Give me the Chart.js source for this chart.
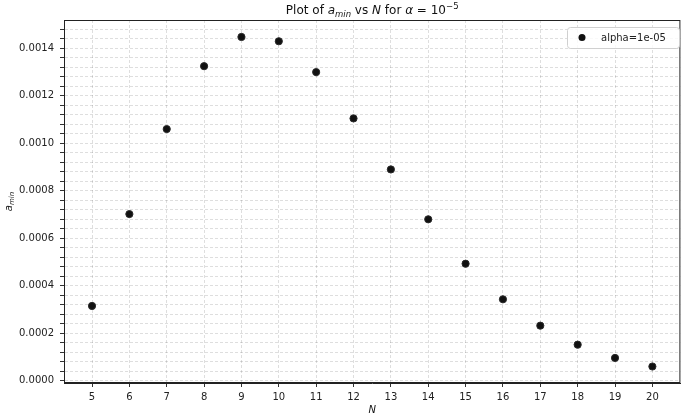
<!DOCTYPE html>
<html>
<head>
<meta charset="utf-8">
<script src="https://cdn.jsdelivr.net/npm/chart.js@4/dist/chart.umd.min.js"></script>
<style>
  html, body { margin: 0; padding: 0; background: #fff; }
  #wrap { width: 685px; height: 418px; position: relative; }
</style>
</head>
<body>
<div id="wrap"><canvas id="myChart" width="685" height="418"></canvas></div>
<script>
// values
const nValues = [5, 6, 7, 8, 9, 10, 11, 12, 13, 14, 15, 16, 17, 18, 19, 20];
const aMin = [0.000315, 0.000702, 0.00106, 0.001325, 0.001448, 0.00143, 0.0013, 0.001105,
              0.00089, 0.00068, 0.000493, 0.000343, 0.000232, 0.000152, 0.000096, 0.00006];
const xTickLabels = [5, 6, 7, 8, 9, 10, 11, 12, 13, 14, 15, 16, 17, 18, 19, 20];
const yTickLabels = [0, 0.0002, 0.0004, 0.0006, 0.0008, 0.0010, 0.0012, 0.0014];
const seriesLabel = 'alpha=1e-05';

const FONT = '"DejaVu Sans", sans-serif';
const xMin = 4.25, xMax = 20.75;
const yMin = -0.0000095, yMax = 0.0015195;

// minor y ticks every 0.00004 (5 per major step)
const yMinor = [];
for (let k = 0; k <= 37; k++) yMinor.push(+(k * 0.00004).toFixed(6));

function isMajor(v) {
  return yTickLabels.some(t => Math.abs(t - v) < 1e-9);
}

// draw a list of [text, font, dy] runs starting at x
function drawRuns(ctx, runs, x, y) {
  let cx = x;
  runs.forEach(r => {
    ctx.font = r[1];
    ctx.fillText(r[0], cx, y + (r[2] || 0));
    cx += ctx.measureText(r[0]).width;
  });
  return cx - x;
}
function runsWidth(ctx, runs) {
  let w = 0;
  runs.forEach(r => { ctx.font = r[1]; w += ctx.measureText(r[0]).width; });
  return w;
}

const decorations = {
  id: 'decorations',
  afterDraw(chart) {
    const ctx = chart.ctx;
    const a = chart.chartArea;
    ctx.save();

    // frame
    ctx.strokeStyle = '#222';
    ctx.lineWidth = 1;
    ctx.strokeRect(a.left + 0.5, a.top + 0.5, a.right - a.left - 1, a.bottom - a.top - 1);

    ctx.fillStyle = '#111';
    ctx.textBaseline = 'alphabetic';
    ctx.textAlign = 'left';

    // title
    const title = [
      ['Plot of ', '12px ' + FONT],
      ['a', 'italic 12px ' + FONT],
      ['min', 'italic 8.5px ' + FONT, 2.5],
      [' vs ', '12px ' + FONT],
      ['N', 'italic 12px ' + FONT],
      [' for ', '12px ' + FONT],
      ['\u03b1', 'italic 12px ' + FONT],
      [' = 10', '12px ' + FONT],
      ['\u22125', '8.5px ' + FONT, -5]
    ];
    const tw = runsWidth(ctx, title);
    drawRuns(ctx, title, (a.left + a.right) / 2 - tw / 2, 14);

    // x label
    const xl = [['N', 'italic 10px ' + FONT]];
    drawRuns(ctx, xl, (a.left + a.right) / 2 - runsWidth(ctx, xl) / 2, 413);

    // y label
    const yl = [['a', 'italic 10px ' + FONT], ['min', 'italic 7px ' + FONT, 2]];
    ctx.save();
    ctx.translate(12, (a.top + a.bottom) / 2);
    ctx.rotate(-Math.PI / 2);
    drawRuns(ctx, yl, -runsWidth(ctx, yl) / 2, 0);
    ctx.restore();

    // legend
    const lx = 567, ly = 27, lw = 112, lh = 21;
    ctx.beginPath();
    ctx.roundRect(lx + 0.5, ly + 0.5, lw, lh, 3);
    ctx.fillStyle = 'rgba(255,255,255,0.8)';
    ctx.fill();
    ctx.strokeStyle = '#d0d0d0';
    ctx.stroke();
    ctx.beginPath();
    ctx.arc(582, 37.5, 3.5, 0, Math.PI * 2);
    ctx.fillStyle = '#111';
    ctx.fill();
    ctx.font = '10px ' + FONT;
    ctx.fillStyle = '#222';
    ctx.textBaseline = 'middle';
    ctx.fillText(seriesLabel, 601, 38);

    ctx.restore();
  }
};

const data = {
  datasets: [{
    label: seriesLabel,
    data: nValues.map((n, i) => ({ x: n, y: aMin[i] })),
    backgroundColor: '#111',
    borderColor: '#2a2a2a',
    borderWidth: 1,
    pointRadius: 3.6,
    pointHoverRadius: 3.6,
    showLine: false
  }]
};

const config = {
  type: 'scatter',
  data: data,
  plugins: [decorations],
  options: {
    responsive: false,
    animation: false,
    events: [],
    layout: { padding: { top: 20, right: 2, left: 0, bottom: 0 } },
    plugins: {
      legend: { display: false },
      title: { display: false },
      tooltip: { enabled: false }
    },
    scales: {
      x: {
        type: 'linear',
        min: xMin,
        max: xMax,
        afterBuildTicks: axis => { axis.ticks = xTickLabels.map(v => ({ value: v })); },
        afterFit: scale => { scale.height = 35; },
        ticks: {
          font: { family: FONT, size: 10 },
          color: '#222',
          padding: 4,
          maxRotation: 0,
          autoSkip: false,
          callback: v => String(v)
        },
        grid: {
          color: 'rgba(0,0,0,0.13)',
          tickColor: '#333',
          tickLength: 4
        },
        border: { display: true, color: '#222', dash: [3, 2] }
      },
      y: {
        type: 'linear',
        min: yMin,
        max: yMax,
        afterBuildTicks: axis => { axis.ticks = yMinor.map(v => ({ value: v })); },
        afterFit: scale => { scale.width = 64; },
        ticks: {
          font: { family: FONT, size: 10 },
          color: '#222',
          padding: 6,
          autoSkip: false,
          callback: v => isMajor(v) ? v.toFixed(4) : ''
        },
        grid: {
          color: 'rgba(0,0,0,0.13)',
          tickColor: '#333',
          tickLength: 4
        },
        border: { display: true, color: '#222', dash: [3, 2] }
      }
    }
  }
};

new Chart(document.getElementById('myChart'), config);
</script>
</body>
</html>
